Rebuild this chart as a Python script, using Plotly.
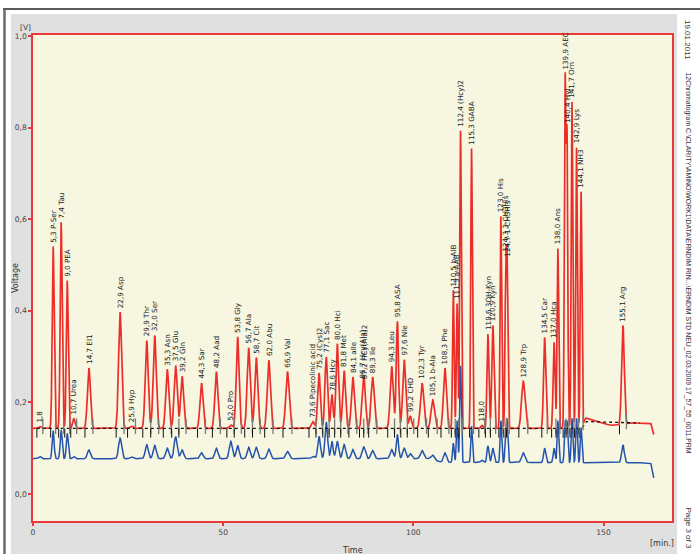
import numpy as np
import plotly.graph_objects as go

# ---------------- data ----------------
peak_times = [1.8, 5.3, 7.4, 9.0, 10.7, 14.7, 22.9, 25.9, 29.9, 32.0, 35.3, 37.5, 39.2,
              44.3, 48.2, 52.0, 53.8, 56.7, 58.7, 62.0, 66.9, 73.6, 75.2, 77.1, 78.6,
              80.0, 81.8, 84.1, 86.7, 87.2, 89.3, 94.3, 95.8, 97.6, 99.2, 102.3, 105.1,
              108.3, 110.5, 111.5, 112.4, 115.3, 118.0, 119.6, 120.9, 123.0, 124.3,
              124.7, 128.9, 134.5, 137.0, 138.0, 139.9, 140.4, 141.7, 142.9, 144.1, 155.1]
peak_names = ["", "P-Ser", "Tau", "PEA", "Urea", "EI1", "Asp", "Hyp", "Thr", "Ser", "Asn",
              "Glu", "Gln", "Sar", "Aad", "Pro", "Gly", "Ala", "Cit", "Abu", "Val",
              "Pipecolinic acid", "(Cys)2", "Sac", "Hcy", "Hci", "Met", "aIle", "Hcy(Ala)",
              "HCy(Ala)2", "Ile", "Leu", "ASA", "Nle", "CHD", "Tyr", "b-Ala", "Phe", "b-AIB",
              "a-AAB", "(Hcy)2", "GABA", "", "3OH-Kyn", "Kyn", "His", "3-CH3His", "1-CH3His",
              "Trp", "Car", "Hca", "Ans", "AEC", "Hyl", "Orn", "Lys", "NH3", "Arg"]
red_heights = [0.147, 0.540, 0.593, 0.466, 0.165, 0.275, 0.397, 0.148, 0.335, 0.346, 0.272,
               0.280, 0.257, 0.242, 0.267, 0.151, 0.343, 0.319, 0.298, 0.292, 0.267, 0.158,
               0.264, 0.299, 0.217, 0.328, 0.269, 0.255, 0.244, 0.241, 0.255, 0.279, 0.377,
               0.293, 0.170, 0.242, 0.205, 0.275, 0.445, 0.416, 0.793, 0.754, 0.150, 0.349,
               0.368, 0.606, 0.520, 0.510, 0.246, 0.342, 0.331, 0.536, 0.917, 0.800, 0.856,
               0.756, 0.660, 0.368]
blue_heights = [0.082, 0.138, 0.140, 0.132, 0.082, 0.096, 0.122, 0.081, 0.108, 0.106, 0.100,
                0.125, 0.096, 0.090, 0.100, 0.115, 0.106, 0.102, 0.102, 0.098, 0.093, 0.082,
                0.126, 0.157, 0.115, 0.115, 0.108, 0.097, 0.100, 0.099, 0.095, 0.097, 0.130,
                0.100, 0.088, 0.095, 0.085, 0.090, 0.111, 0.160, 0.280, 0.148, 0.074, 0.105,
                0.100, 0.160, 0.158, 0.158, 0.090, 0.100, 0.100, 0.160, 0.160, 0.160, 0.165,
                0.165, 0.145, 0.107]
peak_sigmas = [0.3, 0.25, 0.25, 0.25, 0.3, 0.4, 0.4, 0.4, 0.4, 0.4, 0.4, 0.4, 0.4,
               0.4, 0.4, 0.4, 0.38, 0.4, 0.4, 0.42, 0.45, 0.4, 0.35, 0.35, 0.3,
               0.35, 0.38, 0.4, 0.33, 0.33, 0.42, 0.4, 0.3, 0.4, 0.35, 0.45, 0.45,
               0.4, 0.2, 0.2, 0.2, 0.2, 0.3, 0.25, 0.28, 0.2, 0.2,
               0.2, 0.45, 0.28, 0.25, 0.2, 0.2, 0.2, 0.2, 0.2, 0.2, 0.35]

red_base_t = [0.0, 144.3, 145.2, 151.7, 154.0, 157.0, 162.4, 163.2]
red_base_v = [0.143, 0.143, 0.166, 0.150, 0.150, 0.155, 0.155, 0.130]
blue_base_t = [0.0, 104.0, 107.5, 162.4, 163.2]
blue_base_v = [0.077, 0.077, 0.069, 0.068, 0.035]
dots_t = [1.0, 144.3, 145.5, 159.5]
dots_v = [0.143, 0.143, 0.158, 0.155]

x_ticks = [0, 50, 100, 150]
y_ticks = [0.0, 0.2, 0.4, 0.6, 0.8, 1.0]
y_tick_text = ["0,0", "0,2", "0,4", "0,6", "0,8", "1,0"]
side_date = "19.01.2011"
side_path = ("12Chromatogram C:\\CLARITY\\AMINO\\WORK1\\DATA\\ERNDIM RIN...\\ERNDIM STD "
             "NEU_02.03.2009 17_57_55_0011.PRM")
side_page = "Page 3 of 3"

# ---------------- build traces ----------------
pt = np.array(peak_times)
sg = np.array(peak_sigmas)
t = np.arange(0.0, 163.2 + 1e-9, 0.02)


def trace_signal(heights, base_t, base_v):
    base_at_peaks = np.interp(pt, base_t, base_v)
    target = np.array(heights) - base_at_peaks
    G = np.exp(-0.5 * ((pt[:, None] - pt[None, :]) / sg[None, :]) ** 2)
    amps = np.linalg.solve(G, target)
    sig = np.interp(t, base_t, base_v).copy()
    for a, c, s in zip(amps, pt, sg):
        sig += a * np.exp(-0.5 * ((t - c) / s) ** 2)
    return sig


red = trace_signal(red_heights, red_base_t, red_base_v)
blue = trace_signal(blue_heights, blue_base_t, blue_base_v)

fig = go.Figure()
fig.add_trace(go.Scatter(x=t, y=red, mode="lines", line=dict(color="#ec2e2a", width=1.7),
                         hoverinfo="skip"))
fig.add_trace(go.Scatter(x=t, y=blue, mode="lines", line=dict(color="#2453ad", width=1.5),
                         hoverinfo="skip"))
fig.add_trace(go.Scatter(x=dots_t, y=dots_v, mode="lines",
                         line=dict(color="#111111", width=1.3, dash="dot"), hoverinfo="skip"))

# integration event ticks
gx, gy, kx, ky = [], [], [], []
for i, (c, s) in enumerate(zip(pt, sg)):
    start = c - 2.6 * s
    end = c + 2.6 * s
    if i + 1 < len(pt):
        end = min(end, (c + pt[i + 1]) / 2)
    if i > 0:
        start = max(start, (c + pt[i - 1]) / 2)
    b_end = np.interp(end, red_base_t, red_base_v)
    b_start = np.interp(start, red_base_t, red_base_v)
    gx += [end, end, None]
    gy += [b_end - 0.012, b_end + 0.022, None]
    kx += [start, start, None]
    ky += [b_start, b_start - 0.02, None]
fig.add_trace(go.Scatter(x=gx, y=gy, mode="lines", line=dict(color="#7a7a7a", width=1.3),
                         hoverinfo="skip"))
fig.add_trace(go.Scatter(x=kx, y=ky, mode="lines", line=dict(color="#111111", width=1.0),
                         hoverinfo="skip"))

# peak labels
for c, n, h in zip(peak_times, peak_names, red_heights):
    label = f"{c:.1f}".replace(".", ",") + (" " + n if n else "")
    fig.add_annotation(x=c, y=h, text=label, textangle=-90, showarrow=False,
                       xanchor="center", yanchor="bottom", yshift=2,
                       font=dict(family="DejaVu Sans", size=7.2, color="#222222"))

# ---------------- frame / decorations ----------------
L, R, T, B = 33, 672, 35, 521
W, H = 700, 554


def px(x):
    return (x - L) / (R - L)


def py(y):
    return (B - y) / (B - T)


shapes = [
    dict(type="rect", xref="paper", yref="paper", x0=px(11), x1=px(677), y0=py(560), y1=py(14),
         fillcolor="#e0e0e0", line=dict(width=0), layer="below"),
    dict(type="rect", xref="paper", yref="paper", x0=0, x1=1, y0=0, y1=1,
         fillcolor="#f6f6e1", line=dict(width=0), layer="below"),
    dict(type="line", xref="paper", yref="paper", x0=px(3), x1=px(702), y0=py(9), y1=py(9),
         line=dict(color="#5a5a5a", width=2)),
    dict(type="line", xref="paper", yref="paper", x0=px(4.5), x1=px(4.5), y0=py(9), y1=py(560),
         line=dict(color="#6a6a6a", width=2.5)),
]


def add_text(x, y, text, font, angle=0, xanchor="center", yanchor="middle"):
    fig.add_annotation(xref="paper", yref="paper", x=px(x), y=py(y), text=text,
                       textangle=angle, showarrow=False, xanchor=xanchor, yanchor=yanchor,
                       font=font)


annos_font = dict(family="DejaVu Sans", size=8, color="#333333")
add_text(25, 27, "[V]", dict(family="DejaVu Sans", size=7.4, color="#333333"))
add_text(15, 278, "Voltage", annos_font, angle=-90)
add_text(352, 550, "Time", annos_font)
add_text(662, 543, "[min.]", annos_font)
side_font = dict(family="Liberation Sans", size=8, color="#333333")
path_font = dict(family="Liberation Sans", size=6.9, color="#333333")
add_text(688, 18, side_date, side_font, angle=90, yanchor="top")
add_text(688, 70, side_path, path_font, angle=90, yanchor="top")
add_text(688, 550, side_page, side_font, angle=90, yanchor="bottom")

axis_common = dict(showgrid=False, zeroline=False, showline=True, linecolor="#e83a3a",
                   linewidth=1.5, mirror=True, ticks="outside", ticklen=3, tickwidth=1.5,
                   tickcolor="#e83a3a",
                   tickfont=dict(family="DejaVu Sans", size=7.6, color="#444444"))

fig.update_layout(
    width=W, height=H,
    margin=dict(l=L, r=W - R, t=T, b=H - B),
    paper_bgcolor="#ffffff",
    plot_bgcolor="rgba(0,0,0,0)",
    showlegend=False,
    shapes=shapes,
    xaxis=dict(range=[0, 168], tickvals=x_ticks, ticktext=[str(v) for v in x_ticks],
               **axis_common),
    yaxis=dict(range=[-0.059, 1.002], tickvals=y_ticks, ticktext=y_tick_text,
               **axis_common),
)

fig.write_html("out.html",
               config={"displayModeBar": False},
               post_script="document.body.style.margin='0px';"
                           "document.body.style.overflow='hidden';")
